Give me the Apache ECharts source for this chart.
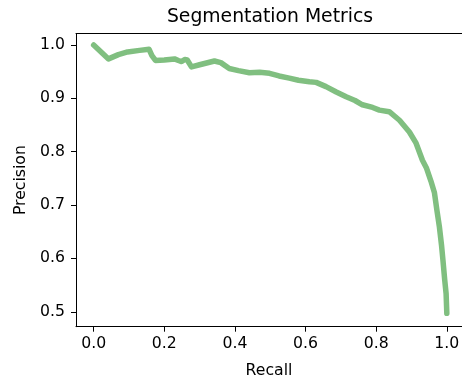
<!DOCTYPE html>
<html>
<head>
<meta charset="utf-8">
<script src="https://cdn.jsdelivr.net/npm/echarts@6/dist/echarts.min.js"></script>
<style>
html,body{margin:0;padding:0;background:#fff;}
#c{width:462px;height:385px;}
</style>
</head>
<body>
<div id="c"></div>
<script>
var recall = [0.000,0.042,0.070,0.096,0.130,0.157,0.165,0.175,0.200,0.229,0.240,0.249,0.258,0.265,0.277,0.300,0.342,0.360,0.384,0.410,0.441,0.470,0.498,0.525,0.554,0.580,0.611,0.630,0.658,0.687,0.715,0.740,0.761,0.790,0.809,0.837,0.866,0.894,0.913,0.931,0.942,0.955,0.965,0.972,0.979,0.985,0.989,0.994,0.998,1.000];
var precision = [1.000,0.974,0.982,0.987,0.990,0.992,0.980,0.971,0.972,0.974,0.971,0.969,0.973,0.972,0.959,0.963,0.970,0.967,0.956,0.952,0.948,0.949,0.947,0.942,0.938,0.934,0.931,0.930,0.922,0.912,0.903,0.896,0.888,0.883,0.878,0.875,0.859,0.837,0.816,0.784,0.770,0.745,0.723,0.690,0.659,0.625,0.597,0.560,0.534,0.497];
var xTicks = [0.0,0.2,0.4,0.6,0.8,1.0];
var yTicks = [0.5,0.6,0.7,0.8,0.9,1.0];
var titleText = 'Segmentation Metrics';
var xName = 'Recall';
var yName = 'Precision';

var pts = recall.map(function(r,i){return [r, precision[i]];});
var font = 'DejaVu Sans';
var spine = {show:true, onZero:false, lineStyle:{color:'#000', width:1}};
var chart = echarts.init(document.getElementById('c'), null, {renderer:'canvas'});
chart.setOption({
  animation:false,
  backgroundColor:'#fff',
  graphic:[{type:'text', x:270, y:17, style:{text:titleText, fontFamily:font, fontSize:18.8, fill:'#000', textAlign:'center', textVerticalAlign:'middle'}}],
  grid:{left:76, top:33.5, right:0, height:293.2, show:false, containLabel:false, outerBoundsMode:'none'},
  xAxis:[{type:'value', min:-0.05, max:1.043, position:'bottom',
    name:xName, nameLocation:'middle', nameGap:36, nameTextStyle:{fontFamily:font, fontSize:15.7, color:'#000'},
    axisLine:spine, splitLine:{show:false},
    axisTick:{show:true, customValues:xTicks, length:5, lineStyle:{color:'#000', width:1}},
    axisLabel:{customValues:xTicks, fontFamily:font, fontSize:15.7, color:'#000', margin:9, formatter:function(v){return v.toFixed(1);}}
  },{type:'value', min:-0.05, max:1.043, position:'top', axisLine:spine, axisTick:{show:false}, axisLabel:{show:false}, splitLine:{show:false}}],
  yAxis:[{type:'value', min:0.472, max:1.0216, position:'left',
    name:yName, nameLocation:'middle', nameGap:47, nameRotate:90, nameTextStyle:{fontFamily:font, fontSize:15.7, color:'#000'},
    axisLine:spine, splitLine:{show:false},
    axisTick:{show:true, customValues:yTicks, length:5, lineStyle:{color:'#000', width:1}},
    axisLabel:{customValues:yTicks, fontFamily:font, fontSize:15.7, color:'#000', margin:11, formatter:function(v){return v.toFixed(1);}}
  }],
  series:[{type:'line', data:pts, showSymbol:false, smooth:false, clip:false,
    lineStyle:{color:'#80bf80', width:5.5, join:'round', cap:'round'}}]
});
</script>
</body>
</html>
